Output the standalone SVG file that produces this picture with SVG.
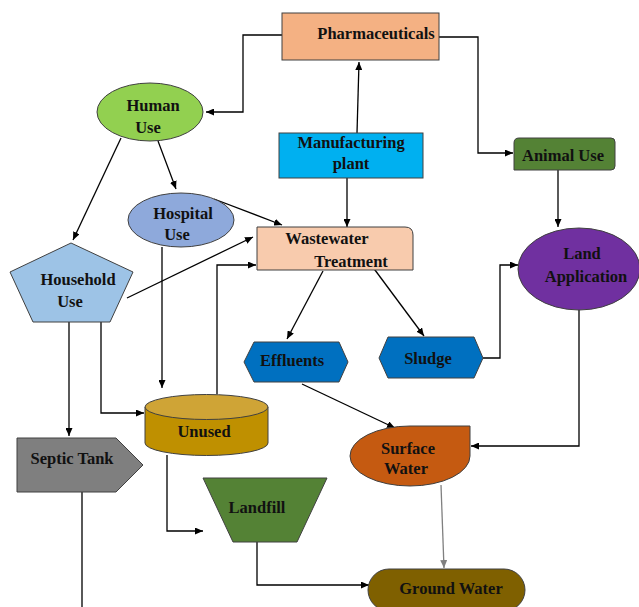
<svg xmlns="http://www.w3.org/2000/svg" width="639" height="607" viewBox="0 0 639 607">
<style>
.n{stroke:#404040;stroke-width:1}
.t{font-family:"Liberation Serif","Times New Roman",serif;font-weight:bold;font-size:16.5px;fill:#111;text-anchor:middle}
.c{fill:none;stroke:#000;stroke-width:1.3;marker-end:url(#ah)}
.g{fill:none;stroke:#808080;stroke-width:1.3;marker-end:url(#ahg)}
</style>
<defs>
<marker id="ah" markerUnits="userSpaceOnUse" markerWidth="9" markerHeight="7" refX="8" refY="3.5" orient="auto"><path d="M0,0 L8,3.5 L0,7 z" fill="#000"/></marker>
<marker id="ahg" markerUnits="userSpaceOnUse" markerWidth="9" markerHeight="7" refX="8" refY="3.5" orient="auto"><path d="M0,0 L8,3.5 L0,7 z" fill="#808080"/></marker>
</defs>
<rect width="639" height="607" fill="#fff"/>
<g id="connectors">
<path class="c" d="M282,35 H243 V112 H206"/>
<path class="c" d="M357,133 L359,62"/>
<path class="c" d="M439,37 H478 V153 H513"/>
<path class="c" d="M558,170 V227"/>
<path class="c" d="M158,141 L176,189"/>
<path class="c" d="M121,138 L73,240"/>
<path class="c" d="M214,199 L282,225"/>
<path class="c" d="M347,178 V227"/>
<path class="c" d="M127,298 L253,237"/>
<path class="c" d="M69,322 V436"/>
<path class="c" d="M101,322 V413 H144"/>
<path class="c" d="M162,247 V388"/>
<path class="c" d="M217,394 V265 H256"/>
<path class="c" d="M167,455 V531 H203"/>
<path class="c" d="M257,542 V585 H369"/>
<path class="c" d="M323,271 L287,339"/>
<path class="c" d="M372,266 L424,336"/>
<path class="c" d="M483,358 H500 V265 H518"/>
<path class="c" d="M579,310 V446 H471"/>
<path class="c" d="M302,384 L395,428"/>
<path class="g" d="M441,485 L444,568"/>
<path fill="none" stroke="#000" stroke-width="1.3" d="M86,488 H82 V607"/>
</g>
<g id="pharmaceuticals"><rect class="n" x="282" y="13" width="157" height="47" fill="#F4B183"/><text class="t" x="376" y="39">Pharmaceuticals</text></g>
<g id="human-use"><ellipse class="n" cx="150" cy="112" rx="53" ry="29" fill="#92D050"/><text class="t" x="153" y="111">Human</text><text class="t" x="148" y="133">Use</text></g>
<g id="manufacturing-plant"><rect class="n" x="279" y="133" width="144" height="45" fill="#00B0F0"/><text class="t" x="351" y="148">Manufacturing</text><text class="t" x="351" y="169">plant</text></g>
<g id="animal-use"><path class="n" d="M519,138 H611 Q615,138 615,142 V166 Q615,170 611,170 H514 V143 Q514,138 519,138 Z" fill="#548235"/><text class="t" x="563" y="161">Animal Use</text></g>
<g id="hospital-use"><ellipse class="n" cx="181" cy="220" rx="53" ry="27" fill="#8EA9DB"/><text class="t" x="183" y="219">Hospital</text><text class="t" x="177" y="240">Use</text></g>
<g id="household-use"><polygon class="n" points="71,243 133,272 110,322 33,322 10,272" fill="#9DC3E6"/><text class="t" x="78" y="285">Household</text><text class="t" x="70" y="307">Use</text></g>
<g id="wastewater-treatment"><path class="n" d="M257,227 H405 Q413,227 413,235 V270 H257 Z" fill="#F8CBAD"/><text class="t" x="327" y="244">Wastewater</text><text class="t" x="351" y="267">Treatment</text></g>
<g id="land-application"><ellipse class="n" cx="579" cy="269" rx="61" ry="41" fill="#7030A0"/><text class="t" x="582" y="259">Land</text><text class="t" x="586" y="282">Application</text></g>
<g id="effluents"><polygon class="n" points="244,362 254,342 339,342 348,362 339,382 254,382" fill="#0070C0"/><text class="t" x="292" y="366">Effluents</text></g>
<g id="sludge"><polygon class="n" points="379,358 388,337 474,337 483,358 474,378 388,378" fill="#0070C0"/><text class="t" x="428" y="364">Sludge</text></g>
<g id="unused"><path class="n" d="M145,407 V443 A61.5,12.5 0 0 0 268,443 V407" fill="#BF9000"/><ellipse class="n" cx="206.5" cy="407" rx="61.5" ry="12.5" fill="#CFA436"/><text class="t" x="204" y="437">Unused</text></g>
<g id="septic-tank"><polygon class="n" points="17,438 116,438 143,465 116,492 17,492" fill="#7F7F7F"/><text class="t" x="72" y="464">Septic Tank</text></g>
<g id="landfill"><polygon class="n" points="203,478 327,478 297,542 233,542" fill="#548235"/><text class="t" x="257" y="513">Landfill</text></g>
<g id="surface-water"><path class="n" d="M410,426 H470 V456 A60,30 0 0 1 410,486 A60,30 0 0 1 350,456 A60,30 0 0 1 410,426 Z" fill="#C55A11"/><text class="t" x="408" y="454">Surface</text><text class="t" x="406" y="474">Water</text></g>
<g id="ground-water"><rect class="n" x="368" y="569" width="157" height="42" rx="21" ry="21" fill="#7F6000"/><text class="t" x="451" y="594">Ground Water</text></g>
</svg>
